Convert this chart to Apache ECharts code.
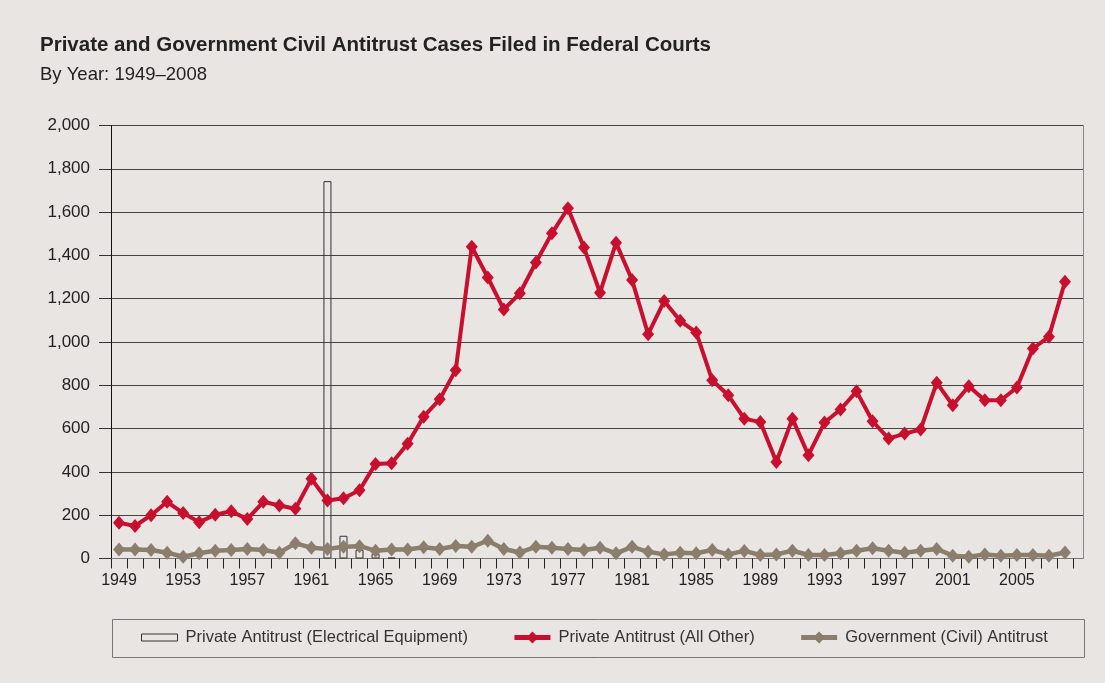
<!DOCTYPE html>
<html><head><meta charset="utf-8">
<script src="https://cdn.jsdelivr.net/npm/echarts@6/dist/echarts.min.js"></script>
<style>html,body{margin:0;padding:0;background:#e8e5e2}#c{width:1105px;height:683px}</style>
</head><body><div id="c"></div>
<script>
const years = [1949,1950,1951,1952,1953,1954,1955,1956,1957,1958,
  1959,1960,1961,1962,1963,1964,1965,1966,1967,1968,
  1969,1970,1971,1972,1973,1974,1975,1976,1977,1978,
  1979,1980,1981,1982,1983,1984,1985,1986,1987,1988,
  1989,1990,1991,1992,1993,1994,1995,1996,1997,1998,
  1999,2000,2001,2002,2003,2004,2005,2006,2007,2008];
const privateOther = [165,150,200,262,210,168,202,218,182,262,
  245,230,368,268,278,315,437,440,530,655,
  735,870,1440,1298,1150,1225,1367,1502,1618,1436,
  1228,1458,1286,1036,1189,1098,1044,823,754,646,
  630,446,646,477,628,688,772,634,554,577,
  596,812,708,796,731,731,790,970,1024,1278];
const government = [42,42,39,27,8,24,36,39,44,39,
  27,70,50,44,54,57,36,42,42,52,
  44,58,54,82,44,28,54,50,44,39,
  50,24,54,31,19,27,24,39,19,35,
  16,19,36,16,16,24,36,47,36,27,
  36,44,13,8,19,13,16,16,13,28];
const electricalYears = [1962,1963,1964,1965,1966];
const electricalValues = [1743,105,40,22,4];
const yMin = 0, yMax = 2000, yStep = 200;

const electricalData = years.map(y => {
  const k = electricalYears.indexOf(y);
  return k >= 0 ? electricalValues[k] : '-';
});

const RED = '#c8102e', TAUPE = '#8b7e6d';
const FONT = "'Liberation Sans', Arial, sans-serif";
const chart = echarts.init(document.getElementById('c'));
chart.setOption({
  backgroundColor: '#e8e5e2',
  animation: false,
  textStyle: { fontFamily: FONT },
  title: {
    text: 'Private and Government Civil Antitrust Cases Filed in Federal Courts',
    subtext: 'By Year: 1949–2008',
    left: 35, top: 30, itemGap: 9,
    textStyle: { fontFamily: FONT, fontSize: 20.5, fontWeight: 'bold', color: '#222' },
    subtextStyle: { fontFamily: FONT, fontSize: 18.5, color: '#222' }
  },
  legend: {
    top: 624, left: 136, itemGap: 44, itemWidth: 36, itemHeight: 15,
    textStyle: { fontFamily: FONT, fontSize: 16.5, color: '#333', padding: [0, 0, 0, 3] },
    data: [
      { name: 'Private Antitrust (Electrical Equipment)', icon: 'path://M0 0H36V7H0Z',
        itemStyle: { color: 'rgba(0,0,0,0)', borderColor: '#333', borderWidth: 1 } },
      { name: 'Private Antitrust (All Other)', lineStyle: { width: 5 } },
      { name: 'Government (Civil) Antitrust', lineStyle: { width: 5 } }
    ]
  },
  graphic: [{
    type: 'rect', left: 110, top: 617, z: -1,
    shape: { width: 972, height: 38 },
    style: { fill: 'none', stroke: '#777', lineWidth: 1 }
  }],
  grid: [
    { left: 111, top: 125.5, width: 962, height: 433 },
    { left: 1073, top: 125.5, width: 10, height: 433 }
  ],
  xAxis: [
    { type: 'category', gridIndex: 0, data: years.map(String), boundaryGap: true,
      axisLine: { lineStyle: { color: '#777', width: 1 } },
      axisTick: { show: true, interval: 0, length: 10, lineStyle: { color: '#222' } },
      axisLabel: { interval: 3, margin: 14, fontSize: 16, color: '#222', fontFamily: FONT },
      splitLine: { show: false } },
    { type: 'category', gridIndex: 1, data: [''],
      axisLine: { lineStyle: { color: '#777' } }, axisTick: { show: false }, axisLabel: { show: false } }
  ],
  yAxis: [
    { type: 'value', gridIndex: 0, min: yMin, max: yMax, interval: yStep,
      axisLine: { show: true, lineStyle: { color: '#111' } },
      axisTick: { show: true, length: 12, lineStyle: { color: '#333' } },
      axisLabel: { margin: 21, fontSize: 17, color: '#222', fontFamily: FONT,
        formatter: v => v.toLocaleString('en-US') },
      splitLine: { show: true, lineStyle: { color: '#444', width: 1 } } },
    { type: 'value', gridIndex: 1, position: 'right', min: yMin, max: yMax, interval: yStep,
      axisLine: { show: true, lineStyle: { color: '#888' } },
      axisTick: { show: false }, axisLabel: { show: false },
      splitLine: { show: true, lineStyle: { color: '#444', width: 1 } } }
  ],
  series: [
    { name: 'Private Antitrust (Electrical Equipment)', type: 'bar', xAxisIndex: 0, yAxisIndex: 0,
      data: electricalData, barWidth: 8, z: 1,
      itemStyle: { color: 'rgba(0,0,0,0)', borderColor: '#333', borderWidth: 1 } },
    { name: 'Government (Civil) Antitrust', type: 'line', xAxisIndex: 0, yAxisIndex: 0,
      data: government, symbol: 'diamond', symbolSize: [12, 14], showAllSymbol: true, z: 2,
      lineStyle: { color: TAUPE, width: 4.5 }, itemStyle: { color: TAUPE } },
    { name: 'Private Antitrust (All Other)', type: 'line', xAxisIndex: 0, yAxisIndex: 0,
      data: privateOther, symbol: 'diamond', symbolSize: [12, 14], showAllSymbol: true, z: 3,
      lineStyle: { color: RED, width: 4 }, itemStyle: { color: RED } }
  ]
});
</script>
</body></html>
